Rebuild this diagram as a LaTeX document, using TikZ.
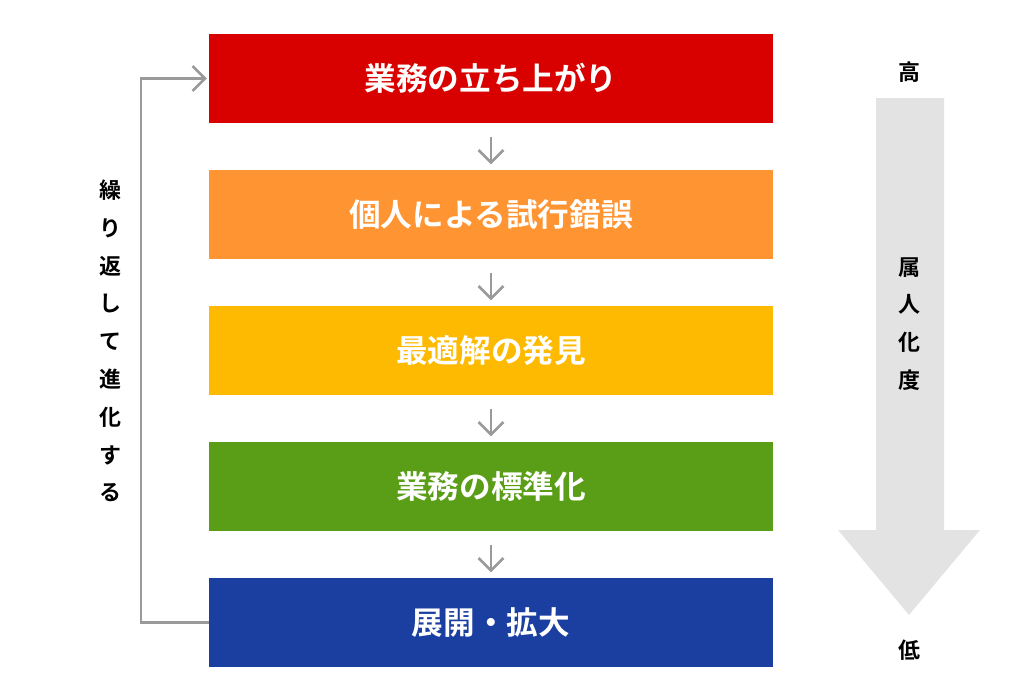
\documentclass[tikz,border=0pt]{standalone}
\usepackage{fontspec}
\setmainfont{Noto Sans CJK JP}[BoldFont={Noto Sans CJK JP Bold}]
\usetikzlibrary{arrows.meta}

\definecolor{stepred}{HTML}{D90000}
\definecolor{steporange}{HTML}{FF9433}
\definecolor{stepyellow}{HTML}{FDBA00}
\definecolor{stepgreen}{HTML}{5A9E17}
\definecolor{stepblue}{HTML}{1A3FA0}
\definecolor{linegray}{HTML}{9A9A9A}
\definecolor{fillgray}{HTML}{E3E3E3}

\tikzset{
  stepbox/.style={minimum width=11.28cm, minimum height=1.78cm, inner sep=0pt,
    text=white, font=\bfseries\fontsize{18}{20}\selectfont},
  flowarrow/.style={draw=linegray, line width=1.5pt, -{Straight Barb[length=2.5mm, width=5mm]}},
  sidetext/.style={align=center, font=\bfseries\fontsize{12.5}{21.5}\selectfont}
}

\begin{document}
\begin{tikzpicture}[x=0.02cm, y=-0.02cm]
  \useasboundingbox (0,0) rectangle (1012,690);

  % steps
  \node[stepbox, fill=stepred]    (start) at (491,78.5)  {業務の立ち上がり};
  \node[stepbox, fill=steporange] (trial) at (491,214.5) {個人による試行錯誤};
  \node[stepbox, fill=stepyellow] (best)  at (491,350.5) {最適解の発見};
  \node[stepbox, fill=stepgreen]  (std)   at (491,486.5) {業務の標準化};
  \node[stepbox, fill=stepblue]   (grow)  at (491,622.5) {展開・拡大};

  \draw[flowarrow] ([yshift=-8pt]start.south) -- ([yshift=3pt]trial.north);
  \draw[flowarrow] ([yshift=-8pt]trial.south) -- ([yshift=3pt]best.north);
  \draw[flowarrow] ([yshift=-8pt]best.south) -- ([yshift=3pt]std.north);
  \draw[flowarrow] ([yshift=-8pt]std.south) -- ([yshift=3pt]grow.north);

  % loop back
  \coordinate (loopa) at (141,622.5);
  \coordinate (loopb) at (141,78.5);
  \draw[flowarrow] (grow.west) -- (loopa) -- (loopb) -- ([xshift=-1pt]start.west);
  \node[sidetext] (loop) at (110,341) {繰\\り\\返\\し\\て\\進\\化\\す\\る};

  % dependency scale
  \fill[fillgray] (876,98) -- (944,98) -- (944,530) -- (980,530) -- (909,615)
    -- (838,530) -- (876,530) -- cycle;
  \node[sidetext] (high)  at (909,72)  {高};
  \node[sidetext] (scale) at (909,324) {属\\人\\化\\度};
  \node[sidetext] (low)   at (909,650) {低};
\end{tikzpicture}
\end{document}
